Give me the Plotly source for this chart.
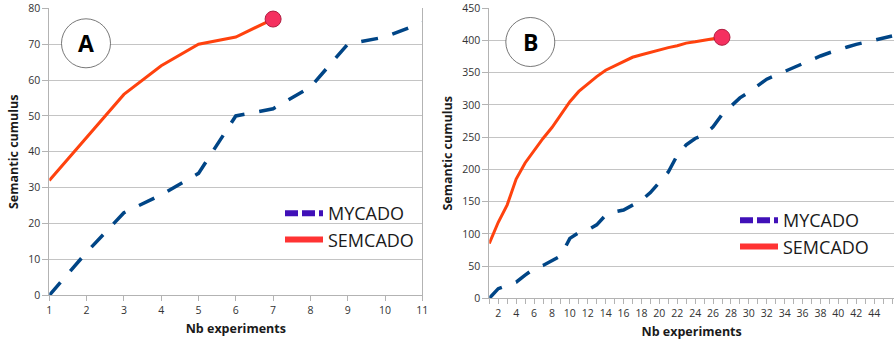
import plotly.graph_objects as go

# ---------------- data ----------------
cats_a = list(range(1, 12))
mycado_a = [0, 12, 23, 28, 34, 50, 52, 58, 70, 72, 76]
cats_a_sem = list(range(1, 8))
semcado_a = [32, 44, 56, 64, 70, 72, 77]

cats_b = list(range(1, 47))
mycado_b = [0, 15, 20, 25, 36, 46, 51, 59, 66, 93, 102, 106, 114, 129, 134, 137,
            145, 152, 164, 179, 196, 222, 238, 248, 254, 266, 285, 298, 311, 320,
            330, 340, 346, 352, 359, 365, 370, 376, 381, 386, 390, 394, 397, 401,
            404, 407]
cats_b_sem = list(range(1, 28))
semcado_b = [85, 118, 145, 185, 210, 230, 248, 265, 285, 305, 321, 333, 344, 354,
             361, 368, 374, 378, 382, 386, 389, 392, 396, 398, 400, 403, 405]

ticks_a = list(range(1, 12))
ticks_b = list(range(2, 47, 2))
yticks_a = list(range(0, 81, 10))
yticks_b = list(range(0, 451, 50))

series_names = ["MYCADO", "SEMCADO"]

# ---------------- style ----------------
W, H = 894, 344
FONT = "Open Sans"
C_MY = "#004586"
C_SEM = "#ff420e"
C_LEG_MY = "#4010b8"
C_LEG_SEM = "#ff3333"
GRID = "#c4c4c4"
AX = "#b3b3b3"
TXT = "#333333"

fig = go.Figure()

# panel A
fig.add_trace(go.Scatter(x=cats_a, y=mycado_a, mode="lines", xaxis="x", yaxis="y",
                         line=dict(color=C_MY, width=3.5, dash="17px,15px"),
                         showlegend=False))
fig.add_trace(go.Scatter(x=cats_a_sem, y=semcado_a, mode="lines", xaxis="x", yaxis="y",
                         line=dict(color=C_SEM, width=3), showlegend=False))
fig.add_trace(go.Scatter(x=cats_a_sem[-1:], y=semcado_a[-1:], mode="markers",
                         xaxis="x", yaxis="y", cliponaxis=False,
                         marker=dict(size=16, color="#f5305f",
                                     line=dict(color="#b01d40", width=1)),
                         showlegend=False))
# panel B
fig.add_trace(go.Scatter(x=cats_b, y=mycado_b, mode="lines", xaxis="x2", yaxis="y2",
                         line=dict(color=C_MY, width=3.5, dash="17px,15px"),
                         showlegend=False))
fig.add_trace(go.Scatter(x=cats_b_sem, y=semcado_b, mode="lines", xaxis="x2", yaxis="y2",
                         line=dict(color=C_SEM, width=3), showlegend=False))
fig.add_trace(go.Scatter(x=cats_b_sem[-1:], y=semcado_b[-1:], mode="markers",
                         xaxis="x2", yaxis="y2", cliponaxis=False,
                         marker=dict(size=16, color="#f5305f",
                                     line=dict(color="#b01d40", width=1)),
                         showlegend=False))

# legend entries (legend-only traces)
for lg, xa, ya in [("legend", "x", "y"), ("legend2", "x2", "y2")]:
    fig.add_trace(go.Scatter(x=[None], y=[None], mode="lines", name=series_names[0],
                             xaxis=xa, yaxis=ya, legend=lg,
                             line=dict(color=C_LEG_MY, width=6, dash="13px,4px")))
    fig.add_trace(go.Scatter(x=[None], y=[None], mode="lines", name=series_names[1],
                             xaxis=xa, yaxis=ya, legend=lg,
                             line=dict(color=C_LEG_SEM, width=6)))

# axes geometry (pixels)
ax_left, ax_right = 49.3, 422.3
bx_left, bx_right = 489.3, 894.0
top = 8.3
a_bottom, b_bottom = 295.3, 298.3

common_x = dict(showgrid=False, zeroline=False, showline=True, linecolor=AX,
                ticks="outside", ticklen=5, tickcolor=AX, automargin=False,
                tickfont=dict(family=FONT, size=10.5, color=TXT),
                title_font=dict(family=FONT, size=12.5, color="#1a1a1a"),
                title_standoff=8)
common_y = dict(showgrid=True, gridcolor=GRID, gridwidth=1, zeroline=False,
                showline=True, linecolor=AX, ticks="outside", ticklen=6,
                tickcolor=AX, automargin=False,
                tickfont=dict(family=FONT, size=10.5, color=TXT),
                title_font=dict(family=FONT, size=12.5, color="#1a1a1a"),
                title_standoff=6)

b_span = (bx_right - bx_left) / 8.95

fig.update_layout(
    width=W, height=H, margin=dict(l=0, r=0, t=0, b=0, autoexpand=False),
    paper_bgcolor="white", plot_bgcolor="white",
    font=dict(family=FONT),
    xaxis=dict(common_x, domain=[ax_left / W, ax_right / W], range=[1, 11],
               tickvals=ticks_a, title_text="<b>Nb experiments</b>", anchor="y"),
    yaxis=dict(common_y, domain=[1 - a_bottom / H, 1 - top / H], range=[0, 80],
               tickvals=yticks_a, title_text="<b>Semantic cumulus</b>", anchor="x",
               mirror=True),
    xaxis2=dict(common_x, domain=[bx_left / W, bx_right / W], range=[1, 1 + b_span],
                tickvals=ticks_b, title_text="<b>Nb experiments</b>", anchor="y2",
                minor=dict(dtick=1, tick0=1, ticks="outside", ticklen=5,
                           tickcolor=AX, showgrid=False)),
    yaxis2=dict(common_y, domain=[1 - b_bottom / H, 1 - top / H], range=[0, 450],
                tickvals=yticks_b, title_text="<b>Semantic cumulus</b>", anchor="x2"),
    legend=dict(x=280 / W, y=1 - 195 / H, xanchor="left", yanchor="top",
                bgcolor="rgba(0,0,0,0)", itemwidth=38,
                font=dict(family=FONT, size=18, color="#1a1a1a"),
                tracegroupgap=0),
    legend2=dict(x=735 / W, y=1 - 202 / H, xanchor="left", yanchor="top",
                 bgcolor="rgba(0,0,0,0)", itemwidth=38,
                 font=dict(family=FONT, size=18, color="#1a1a1a"),
                 tracegroupgap=0),
)

# panel letters in circles
for cx, cy, letter in [(86, 43.3, "A"), (530.3, 42, "B")]:
    fig.add_shape(type="circle", xref="paper", yref="paper",
                  xsizemode="pixel", ysizemode="pixel",
                  xanchor=cx / W, yanchor=1 - cy / H,
                  x0=-24.5, x1=24.5, y0=-24.5, y1=24.5,
                  line=dict(color="#555555", width=0.8), fillcolor="white",
                  layer="above")
    fig.add_annotation(x=cx / W, y=1 - cy / H, xref="paper", yref="paper",
                       text=f"<b>{letter}</b>", showarrow=False,
                       xanchor="center", yanchor="middle",
                       font=dict(family=FONT, size=23, color="black"))

fig.write_html("out.html",
               config={"displayModeBar": False},
               post_script="document.body.style.margin='0px';"
                           "document.body.style.overflow='hidden';")
